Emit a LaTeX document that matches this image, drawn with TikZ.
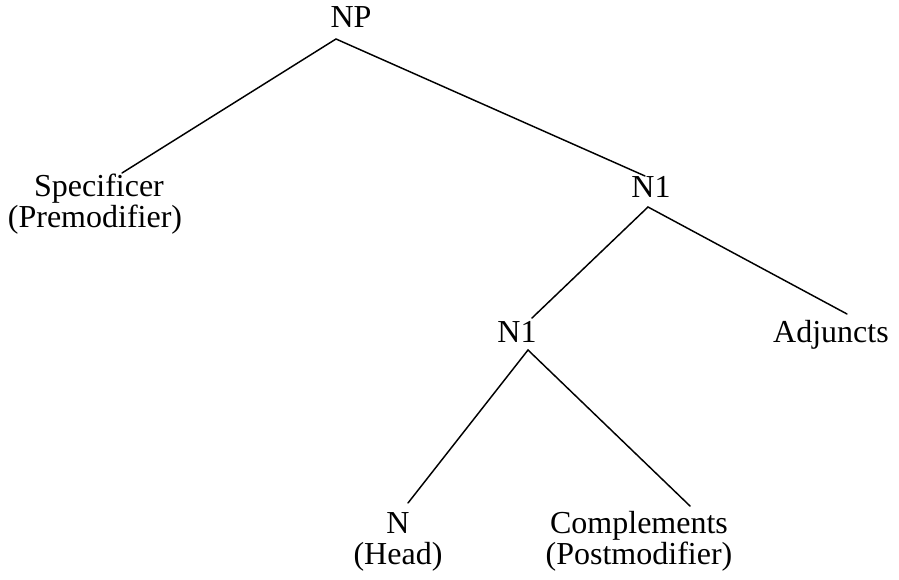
\documentclass[tikz,border=0pt]{standalone}
\usepackage{fontspec}
\setmainfont{Liberation Serif}
\begin{document}
\begin{tikzpicture}[x=0.75pt,y=-0.75pt,
  lbl/.style={inner sep=0pt,anchor=base,font=\fontsize{24}{24}\selectfont},
  edge/.style={line width=1.1pt,line cap=round}]
\useasboundingbox (0,0) rectangle (899,580);
\node[lbl] (np) at (351,28) {NP};
\node[lbl] (spec) at (99,197) {Specificer};
\node[lbl] (specb) at (95,228) {(Premodifier)};
\node[lbl] (n1a) at (651,198) {N1};
\node[lbl] (n1b) at (517,343) {N1};
\node[lbl] (adj) at (831,343) {Adjuncts};
\node[lbl] (head) at (398,533) {N};
\node[lbl] (headb) at (398,564) {(Head)};
\node[lbl] (comp) at (639,533) {Complements};
\node[lbl] (compb) at (639,564) {(Postmodifier)};
\coordinate (npB) at (336,39);
\coordinate (specT) at (122,173);
\coordinate (n1aT) at (645,176);
\coordinate (n1aB) at (648,207);
\coordinate (n1bT) at (532,318);
\coordinate (adjT) at (847,314);
\coordinate (n1bB) at (528,350);
\coordinate (headT) at (408,503);
\coordinate (compT) at (690,506);
\draw[edge] (specT) -- (npB) -- (n1aT);
\draw[edge] (n1bT) -- (n1aB) -- (adjT);
\draw[edge] (headT) -- (n1bB) -- (compT);
\end{tikzpicture}
\end{document}
